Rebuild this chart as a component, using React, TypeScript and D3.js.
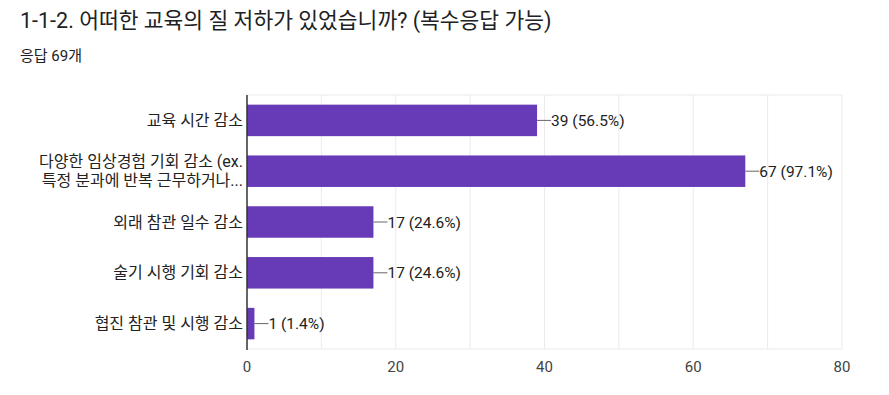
import { useEffect, useRef } from 'react';
import * as d3 from 'd3';

const categories = [
  ['교육 시간 감소'],
  ['다양한 임상경험 기회 감소 (ex.', '특정 분과에 반복 근무하거나...'],
  ['외래 참관 일수 감소'],
  ['술기 시행 기회 감소'],
  ['협진 참관 및 시행 감소'],
];
const counts = [39, 67, 17, 17, 1];
const percents = ['56.5%', '97.1%', '24.6%', '24.6%', '1.4%'];
const xTicks = [0, 20, 40, 60, 80];
const gridValues = [10, 20, 30, 40, 50, 60, 70, 80];

const FONT = 'Roboto, "Noto Sans CJK KR", sans-serif';

export default function App() {
  const svgRef = useRef<SVGSVGElement>(null);

  useEffect(() => {
    if (!svgRef.current) return;
    const svg = d3.select(svgRef.current);
    svg.selectAll('*').remove();

    const width = 889;
    const margin = { top: 95, left: 247, right: 47, bottom: 46 };
    const plotBottom = 349;

    svg.append('rect').attr('width', width).attr('height', 395).attr('fill', '#fff');

    svg.append('text')
      .attr('x', 20).attr('y', 28)
      .attr('font-family', FONT).attr('font-size', 21.5)
      .attr('fill', '#202124')
      .text('1-1-2. 어떠한 교육의 질 저하가 있었습니까? (복수응답 가능)');

    svg.append('text')
      .attr('x', 20).attr('y', 61)
      .attr('font-family', FONT).attr('font-size', 15)
      .attr('fill', '#202124')
      .text('응답 69개');

    const x = d3.scaleLinear().domain([0, 80]).range([margin.left, width - margin.right]);
    const y = d3.scaleBand<number>()
      .domain(d3.range(counts.length))
      .range([margin.top, plotBottom])
      .paddingInner(0.38).paddingOuter(0.19);

    const g = svg.append('g');

    // gridlines
    g.selectAll('line.grid')
      .data(gridValues)
      .join('line')
      .attr('x1', d => x(d)).attr('x2', d => x(d))
      .attr('y1', margin.top).attr('y2', plotBottom)
      .attr('stroke', '#ebebeb').attr('stroke-width', 1);
    g.append('line')
      .attr('x1', margin.left).attr('x2', x(80))
      .attr('y1', margin.top).attr('y2', margin.top)
      .attr('stroke', '#ebebeb');
    g.append('line')
      .attr('x1', margin.left).attr('x2', x(80))
      .attr('y1', plotBottom).attr('y2', plotBottom)
      .attr('stroke', '#ebebeb');

    // bars
    g.selectAll('rect.bar')
      .data(counts)
      .join('rect')
      .attr('x', x(0))
      .attr('y', (_, i) => y(i)!)
      .attr('width', d => x(d) - x(0))
      .attr('height', y.bandwidth())
      .attr('fill', '#673ab7');

    // value labels with leader lines
    counts.forEach((d, i) => {
      const cy = y(i)! + y.bandwidth() / 2;
      g.append('line')
        .attr('x1', x(d)).attr('x2', x(d) + 14)
        .attr('y1', cy).attr('y2', cy)
        .attr('stroke', '#666').attr('stroke-width', 1);
      g.append('text')
        .attr('x', x(d) + 14).attr('y', cy + 5.5)
        .attr('font-family', FONT).attr('font-size', 15.5)
        .attr('fill', '#222')
        .text(`${d} (${percents[i]})`);
    });

    // category labels
    categories.forEach((lines, i) => {
      const cy = y(i)! + y.bandwidth() / 2;
      const lh = 19;
      const startY = cy - ((lines.length - 1) * lh) / 2 + 5.5;
      const t = g.append('text')
        .attr('text-anchor', 'end')
        .attr('font-family', FONT).attr('font-size', 16)
        .attr('fill', '#222');
      lines.forEach((line, li) => {
        t.append('tspan').attr('x', margin.left - 4).attr('y', startY + li * lh).text(line);
      });
    });

    // axis line
    g.append('line')
      .attr('x1', x(0)).attr('x2', x(0))
      .attr('y1', margin.top).attr('y2', plotBottom + 1)
      .attr('stroke', '#333').attr('stroke-width', 1.5);

    // x tick labels
    g.selectAll('text.tick')
      .data(xTicks)
      .join('text')
      .attr('x', d => x(d)).attr('y', 372)
      .attr('text-anchor', 'middle')
      .attr('font-family', FONT).attr('font-size', 15)
      .attr('fill', '#444')
      .text(d => d);
  }, []);

  return (
    <svg ref={svgRef} width={889} height={395}
      style={{ position: 'absolute', left: 0, top: 0, display: 'block' }} />
  );
}
